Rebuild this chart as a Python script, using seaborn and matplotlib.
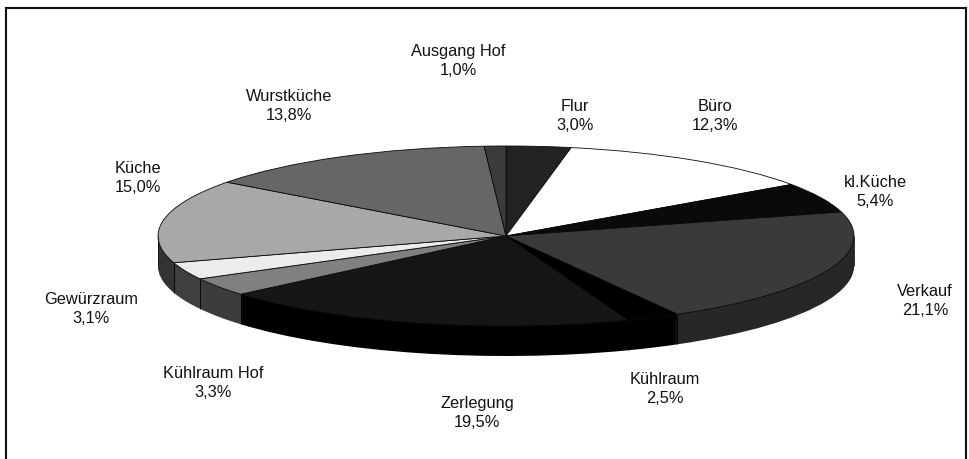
import numpy as np
import seaborn as sns
import matplotlib.pyplot as plt

rooms = ['Flur', 'Büro', 'kl.Küche', 'Verkauf', 'Kühlraum', 'Zerlegung',
         'Kühlraum Hof', 'Gewürzraum', 'Küche', 'Wurstküche', 'Ausgang Hof']
shares = [3.0, 12.3, 5.4, 21.1, 2.5, 19.5, 3.3, 3.1, 15.0, 13.8, 1.0]

top_colors = ['#232323', '#ffffff', '#0a0a0a', '#3a3a3a', '#000000', '#161616',
              '#808080', '#ececec', '#a8a8a8', '#666666', '#3c3c3c']
side_colors = ['#111111', '#222222', '#050505', '#272727', '#000000', '#000000',
               '#3c3c3c', '#3f3f3f', '#333333', '#333333', '#222222']

# label centres in pixels from the top left corner
label_pos = [(575, 116), (715, 116), (875, 192), (925, 301), (665, 389), (477, 413),
             (213, 383), (91, 309), (138, 178), (289, 106), (458, 61)]

W, H = 970, 459
CX, CY, RX, RY = 506, 236, 348, 90
DEPTH = 30

sns.set_theme(style='white')
plt.rcParams['font.family'] = ['Liberation Sans', 'DejaVu Sans']

fig = plt.figure(figsize=(W / 100, H / 100), dpi=100)

# outer frame, open at the bottom
frame = fig.add_axes([6 / W, 0, 960 / W, (H - 8) / H])
frame.set(xticks=[], yticks=[])
sns.despine(ax=frame, top=False, right=False, left=False, bottom=True)
for s in frame.spines.values():
    s.set_linewidth(1.5)
    s.set_color('#111111')

ax = fig.add_axes([0, 0, 1, 1])
ax.patch.set_alpha(0)

# side of the disc: the same pie stacked downwards
for d in range(DEPTH, 0, -1):
    ax.pie(shares, colors=side_colors, startangle=90, counterclock=False,
           center=(0, -d / RY), radius=1, wedgeprops={'linewidth': 0})

wedges, _ = ax.pie(shares, colors=top_colors, startangle=90, counterclock=False,
                   radius=1, wedgeprops={'linewidth': 0.6, 'edgecolor': '#0a0a0a'})

ax.set_aspect('auto')
ax.set_xlim(-CX / RX, (W - CX) / RX)
ax.set_ylim((CY - H) / RY, CY / RY)
ax.axis('off')

# seams on the side
for w in wedges:
    t = np.deg2rad(w.theta1)
    if np.sin(t) < 0:
        ax.vlines(np.cos(t), np.sin(t) - DEPTH / RY, np.sin(t), color='#000000', lw=0.6)
for side in (-1, 1):
    ax.vlines(side, -DEPTH / RY, 0, color='#111111', lw=0.6)

for room, share, (x, y) in zip(rooms, shares, label_pos):
    pct = f'{share:.1f}%'.replace('.', ',')
    ax.annotate(f'{room}\n{pct}', xy=(x, H - y), xycoords='figure pixels', ha='center', va='center',
                fontsize=11.8, color='#111111', linespacing=1.3)

fig.savefig('out.png', dpi=100)
